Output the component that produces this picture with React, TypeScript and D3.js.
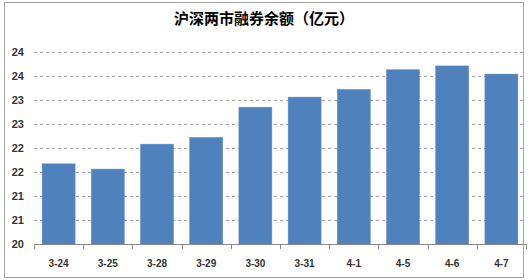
import React from "react";
import * as d3 from "d3";

const categories = ["3-24", "3-25", "3-28", "3-29", "3-30", "3-31", "4-1", "4-5", "4-6", "4-7"];
const values = [21.67, 21.56, 22.08, 22.22, 22.85, 23.06, 23.22, 23.63, 23.71, 23.54];
const yTicks = [20, 20.5, 21, 21.5, 22, 22.5, 23, 23.5, 24];
const title = "沪深两市融券余额（亿元）";

const W = 529;
const H = 280;
const plot = { left: 34, right: 526, top: 52, bottom: 244 };

export default function App() {
  const x = d3
    .scaleBand<string>()
    .domain(categories)
    .range([plot.left, plot.right])
    .paddingInner(0.33)
    .paddingOuter(0.165);
  const y = d3.scaleLinear().domain([20, 24]).range([plot.bottom, plot.top]);
  const step = (plot.right - plot.left) / categories.length;
  const fmt = d3.format(".0f");
  const font = "'Liberation Sans', Arial, sans-serif";

  return (
    <svg
      width={W}
      height={H}
      style={{ position: "absolute", left: 0, top: 0, background: "#fff" }}
    >
      <rect x={0} y={0} width={W} height={H} fill="#fff" />
      <rect x={4.5} y={2.5} width={519} height={275} fill="#fff" stroke="#a6a6a6" strokeWidth={1} />
      <text
        x={264}
        y={24}
        textAnchor="middle"
        fontFamily="'Noto Sans CJK SC', sans-serif"
        fontWeight="bold"
        fontSize={15}
        fill="#000"
      >
        {title}
      </text>
      {yTicks.map((t) =>
        t === 20 ? null : (
          <line
            key={"g" + t}
            x1={plot.left}
            x2={plot.right}
            y1={Math.round(y(t)) + 0.5}
            y2={Math.round(y(t)) + 0.5}
            stroke="#a0a0a0"
            strokeDasharray="3,3"
            strokeWidth={1}
          />
        )
      )}
      {yTicks.map((t) => (
        <text
          key={"l" + t}
          x={24}
          y={y(t)}
          dy="0.35em"
          textAnchor="end"
          fontFamily={font}
          fontWeight="bold"
          fontSize={11}
          fill="#333"
        >
          {fmt(t)}
        </text>
      ))}
      {categories.map((c, i) => (
        <rect
          key={"b" + c}
          x={x(c)!}
          y={y(values[i])}
          width={x.bandwidth()}
          height={y(20) - y(values[i])}
          fill="#4f81bd"
          stroke="#5b8ac4"
          strokeWidth={0.5}
        />
      ))}
      <line
        x1={plot.left}
        x2={plot.right}
        y1={plot.bottom + 0.5}
        y2={plot.bottom + 0.5}
        stroke="#888"
        strokeWidth={1}
      />
      {d3.range(categories.length + 1).map((i) => (
        <line
          key={"t" + i}
          x1={Math.round(plot.left + i * step) + 0.5}
          x2={Math.round(plot.left + i * step) + 0.5}
          y1={plot.bottom}
          y2={plot.bottom + 5}
          stroke="#888"
          strokeWidth={1}
        />
      ))}
      {categories.map((c) => (
        <text
          key={"x" + c}
          x={x(c)! + x.bandwidth() / 2}
          y={263}
          dy="0.35em"
          textAnchor="middle"
          fontFamily={font}
          fontWeight="bold"
          fontSize={10}
          fill="#333"
        >
          {c}
        </text>
      ))}
    </svg>
  );
}
